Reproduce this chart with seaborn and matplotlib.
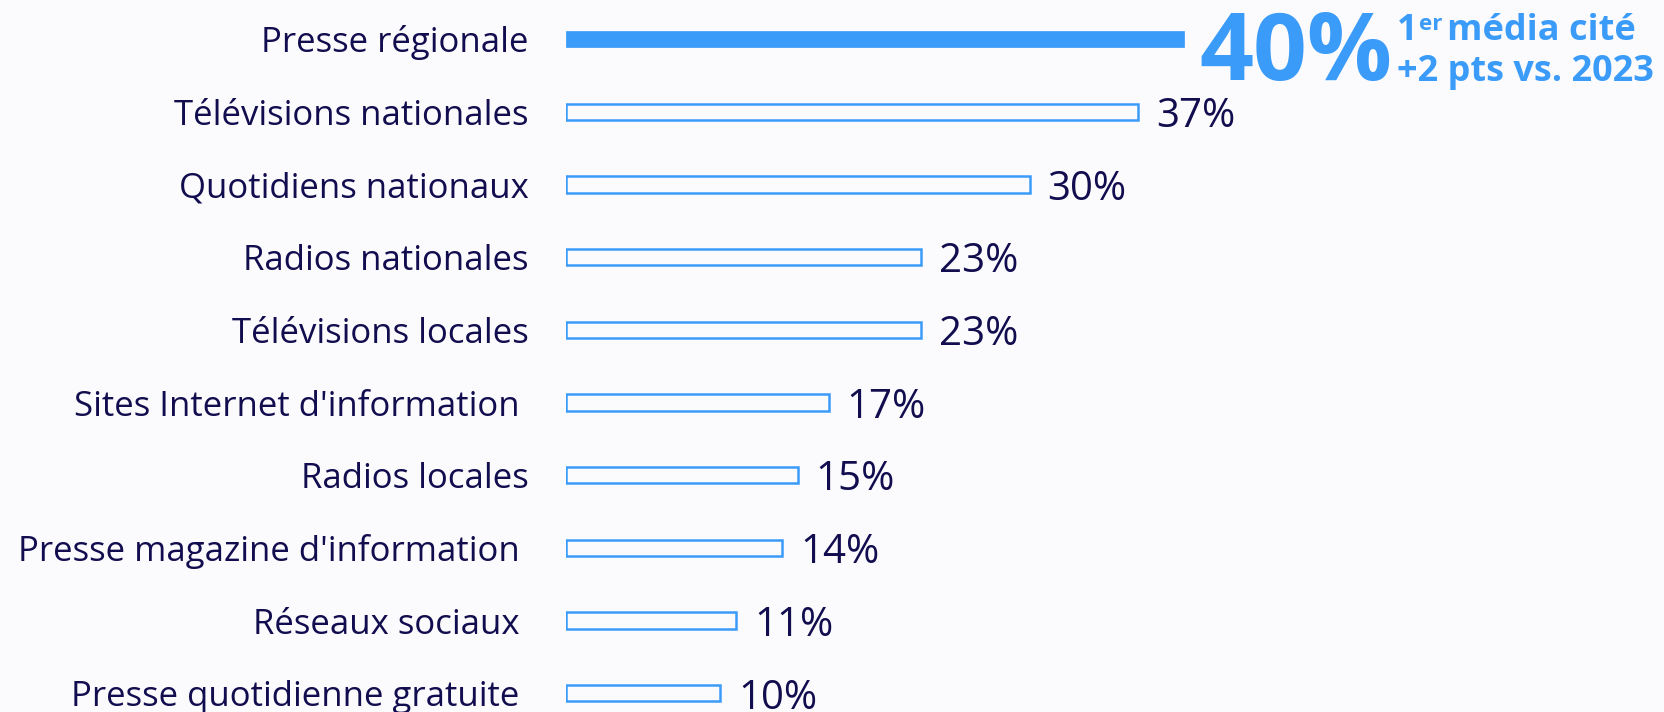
import matplotlib
matplotlib.use("Agg")
import matplotlib.pyplot as plt
import seaborn as sns
import pandas as pd

categories = [
    "Presse régionale",
    "Télévisions nationales",
    "Quotidiens nationaux",
    "Radios nationales",
    "Télévisions locales",
    "Sites Internet d'information ",
    "Radios locales",
    "Presse magazine d'information ",
    "Réseaux sociaux ",
    "Presse quotidienne gratuite ",
]
values = [40, 37, 30, 23, 23, 17, 15, 14, 11, 10]
value_labels = ["40%", "37%", "30%", "23%", "23%", "17%", "15%", "14%", "11%", "10%"]
headline = "40%"
note_line1 = ["1", "er", "média cité"]
note_line2 = "+2 pts vs. 2023"

BG = "#fbfbfe"
BLUE = "#3a9bf8"
NAVY = "#120d4e"

sns.set_theme(style="white")
plt.rcParams["font.family"] = ["Open Sans", "DejaVu Sans"]

W, H = 1665, 712
DPI = 100
fig = plt.figure(figsize=(W / DPI, H / DPI), dpi=DPI, facecolor=BG)

x0_px = 566
px_per_unit = 15.45
ax = fig.add_axes([x0_px / W, 0, 1 - x0_px / W, 1])
ax.set_facecolor(BG)

df = pd.DataFrame({"cat": categories, "val": values})
sns.barplot(data=df, x="val", y="cat", orient="h", width=0.225,
            color=BLUE, ax=ax, saturation=1)

for i, p in enumerate(ax.patches):
    if i == 0:
        p.set_facecolor(BLUE)
        p.set_edgecolor(BLUE)
        p.set_linewidth(0.5)
    else:
        p.set_facecolor("none")
        p.set_edgecolor(BLUE)
        p.set_linewidth(1.8)

ax.set_xlim(0, (W - x0_px) / px_per_unit)
y0 = 39.0
step = 72.7
ax.set_ylim((H - y0) / step, -y0 / step)

for s in ax.spines.values():
    s.set_visible(False)
ax.set_xticks([])
ax.set_xlabel("")
ax.set_ylabel("")
ax.tick_params(axis="y", length=0, pad=27, labelsize=25, labelcolor=NAVY)

for i, (v, lab) in enumerate(zip(values, value_labels)):
    if i == 0:
        continue
    ax.annotate(lab, xy=(v, i), xytext=(13, 0), textcoords="offset points",
                ha="left", va="center_baseline", fontsize=29, color=NAVY)


def fx(px):
    return px / W


def fy(py):
    return 1 - py / H


fig.text(fx(1199), fy(80), headline, fontsize=68, fontweight="bold",
         color=BLUE, ha="left", va="baseline")
fig.text(fx(1397), fy(40), note_line1[0], fontsize=26, fontweight="bold",
         color=BLUE, ha="left", va="baseline")
fig.text(fx(1419), fy(30), note_line1[1], fontsize=16, fontweight="bold",
         color=BLUE, ha="left", va="baseline")
fig.text(fx(1447), fy(40), note_line1[2], fontsize=26, fontweight="bold",
         color=BLUE, ha="left", va="baseline")
fig.text(fx(1397), fy(81), note_line2, fontsize=26, fontweight="bold",
         color=BLUE, ha="left", va="baseline")

fig.savefig("out.png", dpi=DPI, facecolor=BG)
